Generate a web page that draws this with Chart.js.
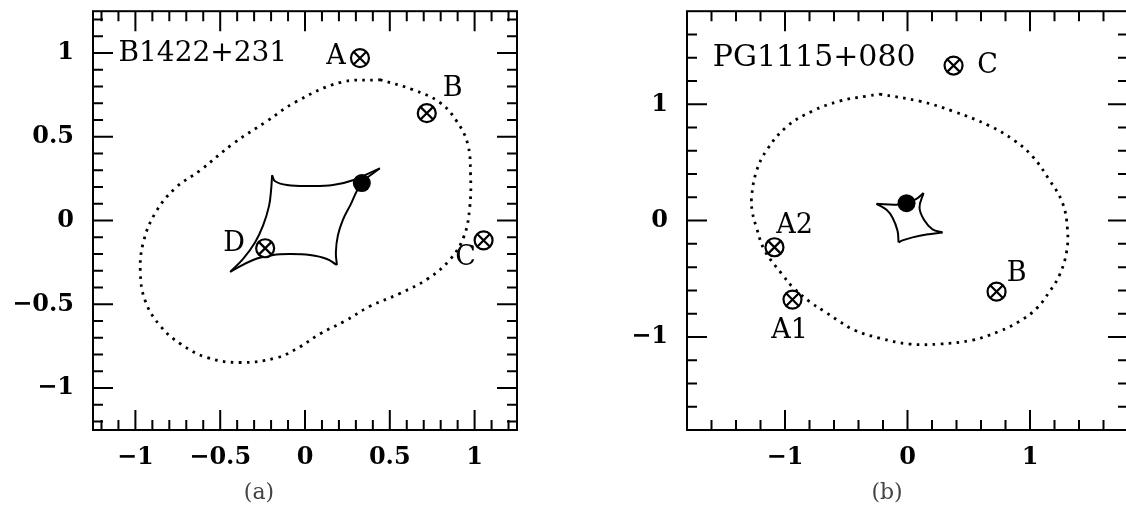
<!DOCTYPE html>
<html>
<head>
<meta charset="utf-8">
<script src="https://cdn.jsdelivr.net/npm/chart.js@4.4.1/dist/chart.umd.min.js"></script>
<style>
  html, body { margin: 0; padding: 0; background: #fff; overflow: hidden; width: 1126px; height: 505px; }
  .panel { position: absolute; top: 0; height: 505px; }
  #wrapA { left: 0; width: 560px; }
  #wrapB { left: 600px; width: 540px; }
  .cap { position: absolute; top: 479px; line-height: 26px; font-family: "DejaVu Serif", serif; font-size: 22px; color: #444; transform: translateX(-50%); }
</style>
</head>
<body>
<div id="wrapA" class="panel"><canvas id="panelA" width="560" height="505"></canvas></div>
<div id="wrapB" class="panel"><canvas id="panelB" width="540" height="505"></canvas></div>
<div class="cap" style="left:259px">(a)</div>
<div class="cap" style="left:887px">(b)</div>
<script>
// ---------- B1422+231 ----------
const b1422Name = 'B1422+231';
const b1422ImageNames = ['A', 'B', 'C', 'D'];
const b1422ImageX = [0.324, 0.718, 1.053, -0.235];
const b1422ImageY = [0.970, 0.641, -0.118, -0.165];
const b1422SourceX = [0.335];
const b1422SourceY = [0.224];
// caustic, one array per fold between cusps
const b1422CausticTop = [[-0.194, 0.271], [-0.176, 0.235], [-0.106, 0.212], [0.029, 0.206], [0.165, 0.212], [0.282, 0.241], [0.441, 0.312]];
const b1422CausticRight = [[0.441, 0.312], [0.335, 0.224], [0.265, 0.088], [0.224, 0.006], [0.194, -0.088], [0.182, -0.188], [0.188, -0.265]];
const b1422CausticBottom = [[0.188, -0.265], [0.129, -0.229], [0.029, -0.206], [-0.088, -0.200], [-0.188, -0.206], [-0.306, -0.235], [-0.441, -0.306]];
const b1422CausticLeft = [[-0.441, -0.306], [-0.365, -0.229], [-0.294, -0.129], [-0.247, -0.029], [-0.212, 0.088], [-0.200, 0.182], [-0.194, 0.271]];
// critical curve (closed)
const b1422Critical = [
  [0.441, 0.841], [0.635, 0.782], [0.794, 0.706], [0.894, 0.594], [0.959, 0.459], [0.976, 0.282],
  [0.971, 0.076], [0.935, -0.100], [0.853, -0.235], [0.724, -0.347], [0.559, -0.435], [0.382, -0.512],
  [0.235, -0.600], [0.088, -0.676], [-0.029, -0.753], [-0.165, -0.818], [-0.382, -0.847], [-0.576, -0.818],
  [-0.735, -0.735], [-0.853, -0.629], [-0.941, -0.482], [-0.971, -0.306], [-0.953, -0.129], [-0.882, 0.047],
  [-0.765, 0.194], [-0.618, 0.300], [-0.424, 0.459], [-0.224, 0.594], [-0.059, 0.706], [0.206, 0.824]
];
const b1422MajorTicks = [-1, -0.5, 0, 0.5, 1];

// ---------- PG1115+080 ----------
const pg1115Name = 'PG1115+080';
const pg1115ImageNames = ['C', 'A2', 'A1', 'B'];
const pg1115ImageX = [0.376, -1.086, -0.939, 0.727];
const pg1115ImageY = [1.333, -0.229, -0.679, -0.611];
const pg1115SourceX = [-0.008];
const pg1115SourceY = [0.150];
const pg1115CausticTop = [[-0.253, 0.144], [-0.090, 0.136], [-0.008, 0.153], [0.073, 0.187], [0.131, 0.238]];
const pg1115CausticRight = [[0.131, 0.238], [0.098, 0.110], [0.139, 0.000], [0.204, -0.076], [0.286, -0.102]];
const pg1115CausticBottom = [[0.286, -0.102], [0.155, -0.119], [0.041, -0.144], [-0.041, -0.170], [-0.073, -0.187]];
const pg1115CausticLeft = [[-0.073, -0.187], [-0.082, -0.085], [-0.122, 0.025], [-0.171, 0.093], [-0.253, 0.144]];
const pg1115Critical = [
  [-0.229, 1.087], [0.098, 1.027], [0.367, 0.942], [0.669, 0.815], [0.873, 0.688], [1.020, 0.552],
  [1.159, 0.348], [1.265, 0.153], [1.306, -0.076], [1.298, -0.272], [1.241, -0.467], [1.159, -0.611],
  [1.053, -0.756], [0.914, -0.866], [0.751, -0.951], [0.531, -1.027], [0.261, -1.061], [0.016, -1.061],
  [-0.229, -1.010], [-0.433, -0.942], [-0.555, -0.866], [-0.678, -0.781], [-0.800, -0.696], [-0.939, -0.569],
  [-1.020, -0.467], [-1.167, -0.255], [-1.233, -0.059], [-1.265, 0.068], [-1.273, 0.195], [-1.233, 0.424],
  [-1.151, 0.603], [-0.988, 0.806], [-0.776, 0.942], [-0.555, 1.027], [-0.335, 1.070]
];
const pg1115MajorTicks = [-1, 0, 1];

// ---------- drawing ----------
const TICK_FONT = { family: '"DejaVu Serif", serif', size: 24, weight: 'bold' };
const LABEL_FONT = '27px "DejaVu Serif", serif';

const toPts = arr => arr.map(([x, y]) => ({ x, y }));
const zipPts = (xs, ys) => xs.map((x, i) => ({ x, y: ys[i] }));
const fmt = v => (v < 0 ? '\u2212' : '') + Math.abs(v);

// frame, inward ticks on all four sides, panel name and image letters
const framePlugin = {
  id: 'lensFrame',
  afterDatasetsDraw(chart, args, o) {
    const { ctx, chartArea: a, scales: { x, y } } = chart;
    ctx.save();
    ctx.strokeStyle = '#000';
    ctx.lineWidth = 2;
    ctx.strokeRect(a.left, a.top, a.right - a.left, a.bottom - a.top);
    ctx.beginPath();
    const isMajor = v => o.major.some(m => Math.abs(m - v) < 1e-6);
    for (let v = o.minorStart; v <= -o.minorStart + 1e-9; v += o.minorStep) {
      const len = isMajor(v) ? 20 : 10;
      const px = x.getPixelForValue(v);
      ctx.moveTo(px, a.bottom); ctx.lineTo(px, a.bottom - len);
      ctx.moveTo(px, a.top); ctx.lineTo(px, a.top + len);
      const py = y.getPixelForValue(v);
      ctx.moveTo(a.left, py); ctx.lineTo(a.left + len, py);
      ctx.moveTo(a.right, py); ctx.lineTo(a.right - len, py);
    }
    ctx.stroke();

    ctx.fillStyle = '#000';
    ctx.textBaseline = 'middle';
    ctx.textAlign = 'left';
    ctx.font = o.nameFont;
    ctx.fillText(o.name, x.getPixelForValue(o.nameAt[0]), y.getPixelForValue(o.nameAt[1]));

    ctx.font = LABEL_FONT;
    ctx.textAlign = 'center';
    o.names.forEach((n, i) => {
      const [dx, dy] = o.offsets[i];
      ctx.fillText(n, x.getPixelForValue(o.xs[i]) + dx, y.getPixelForValue(o.ys[i]) + dy);
    });
    ctx.restore();
  }
};

function lensPanel(id, p) {
  const edge = pts => ({
    data: toPts(pts), showLine: true, tension: 0.4, borderColor: '#000',
    borderWidth: 2, pointRadius: 0, order: 3
  });
  const images = zipPts(p.xs, p.ys);
  new Chart(document.getElementById(id), {
    type: 'scatter',
    data: {
      datasets: [
        { data: images, pointStyle: 'crossRot', pointRadius: 9, borderWidth: 2.2, borderColor: '#000', order: 0 },
        { data: images, pointStyle: 'circle', pointRadius: 9, borderWidth: 2.2, borderColor: '#000', backgroundColor: '#fff', order: 1 },
        { data: zipPts(p.srcX, p.srcY), pointStyle: 'circle', pointRadius: 9, borderWidth: 0, backgroundColor: '#000', order: 2 },
        ...p.caustic.map(edge),
        {
          data: toPts(p.critical.concat([p.critical[0]])), showLine: true, tension: 0.4,
          borderColor: '#000', borderWidth: 2.8, borderDash: [2.6, 5.4], pointRadius: 0, order: 4
        }
      ]
    },
    options: {
      responsive: false,
      animation: false,
      events: [],
      layout: { padding: { left: 0, top: 6, right: p.padRight, bottom: 0 } },
      plugins: {
        legend: { display: false },
        tooltip: { enabled: false },
        lensFrame: {
          major: p.major, minorStart: p.minorStart, minorStep: p.minorStep,
          name: p.name, nameAt: p.nameAt, nameFont: p.nameFont,
          names: p.names, xs: p.xs, ys: p.ys, offsets: p.offsets
        }
      },
      scales: {
        x: {
          type: 'linear', min: -p.range, max: p.range,
          grid: { display: false, drawTicks: false }, border: { display: false },
          afterBuildTicks: s => { s.ticks = p.major.map(v => ({ value: v })); },
          afterFit: s => { s.height = 75; s.paddingLeft = 0; s.paddingRight = 0; },
          ticks: { color: '#000', font: TICK_FONT, padding: 13, maxRotation: 0, autoSkip: false, callback: fmt }
        },
        y: {
          type: 'linear', min: -p.range, max: p.range,
          grid: { display: false, drawTicks: false }, border: { display: false },
          afterBuildTicks: s => { s.ticks = p.major.map(v => ({ value: v })); },
          afterFit: s => { s.width = p.axisWidth; s.paddingTop = 0; s.paddingBottom = 0; },
          ticks: { color: '#000', font: TICK_FONT, padding: 19, autoSkip: false, callback: fmt }
        }
      }
    },
    plugins: [framePlugin]
  });
}

lensPanel('panelA', {
  range: 1.25, major: b1422MajorTicks, minorStart: -1.2, minorStep: 0.1,
  axisWidth: 93, padRight: 43,
  name: b1422Name, nameAt: [-1.1, 0.994], nameFont: '28px "DejaVu Serif", serif',
  names: b1422ImageNames, xs: b1422ImageX, ys: b1422ImageY,
  offsets: [[-24, -1], [26, -24], [-18, 18], [-31, -4]],
  srcX: b1422SourceX, srcY: b1422SourceY,
  caustic: [b1422CausticTop, b1422CausticRight, b1422CausticBottom, b1422CausticLeft],
  critical: b1422Critical
});

lensPanel('panelB', {
  range: 1.8, major: pg1115MajorTicks, minorStart: -1.6, minorStep: 0.2,
  axisWidth: 87, padRight: 12,
  name: pg1115Name, nameAt: [-1.59, 1.396], nameFont: '30px "DejaVu Serif", serif',
  names: pg1115ImageNames, xs: pg1115ImageX, ys: pg1115ImageY,
  offsets: [[34, 0], [20, -21], [-3, 31], [20, -18]],
  srcX: pg1115SourceX, srcY: pg1115SourceY,
  caustic: [pg1115CausticTop, pg1115CausticRight, pg1115CausticBottom, pg1115CausticLeft],
  critical: pg1115Critical
});
</script>
</body>
</html>
